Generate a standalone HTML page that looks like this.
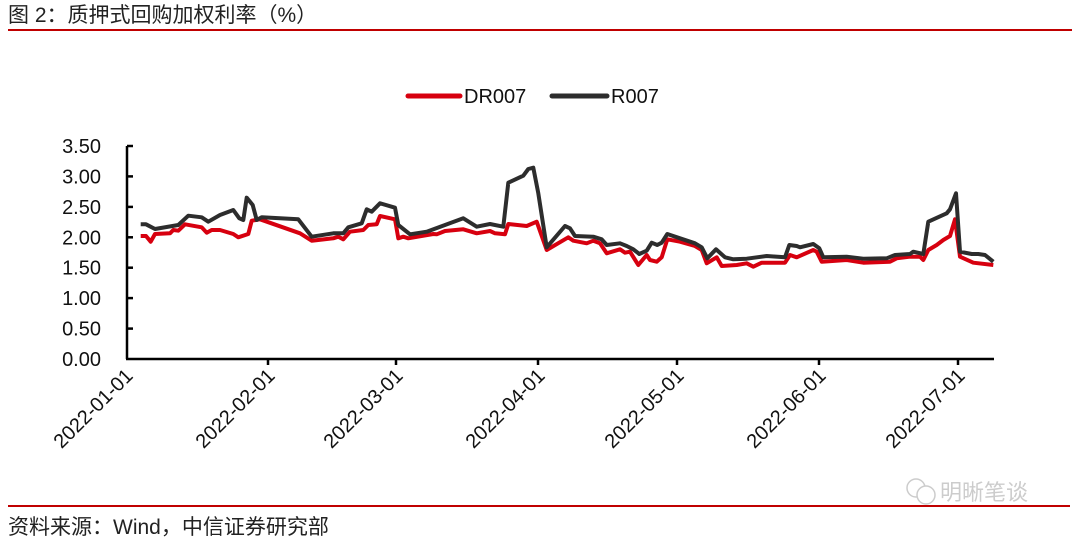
<!DOCTYPE html>
<html><head><meta charset="utf-8"><style>
html,body{margin:0;padding:0;background:#fff;}
body{width:1080px;height:543px;overflow:hidden;}
</style></head><body>
<svg width="1080" height="543" viewBox="0 0 1080 543" xmlns="http://www.w3.org/2000/svg" font-family="Liberation Sans, Noto Sans CJK SC, sans-serif">
<text x="8" y="22" font-size="21" fill="#222" font-family="Liberation Sans, Noto Sans CJK SC, sans-serif">图 2：质押式回购加权利率（%）</text>
<line x1="8" y1="30" x2="1072" y2="30" stroke="#c00000" stroke-width="2"/>
<line x1="8" y1="506" x2="1070" y2="506" stroke="#c00000" stroke-width="2"/>
<text x="8" y="534" font-size="21" fill="#222" font-family="Liberation Sans, Noto Sans CJK SC, sans-serif">资料来源：Wind，中信证券研究部</text>
<text x="940" y="500" font-size="22" fill="#ccc" font-family="Noto Sans CJK SC, sans-serif">明晰笔谈</text>
<circle cx="916" cy="488" r="9" fill="none" stroke="#ccc" stroke-width="1.5"/>
<circle cx="926" cy="495" r="9" fill="#fff" stroke="#ccc" stroke-width="1.5"/>
<!-- legend -->
<line x1="408" y1="96" x2="460" y2="96" stroke="#d7000f" stroke-width="5" stroke-linecap="round"/>
<text x="464" y="103" font-size="20" fill="#111">DR007</text>
<line x1="552" y1="96" x2="607" y2="96" stroke="#2d2d2d" stroke-width="5" stroke-linecap="round"/>
<text x="611" y="103" font-size="20" fill="#111">R007</text>
<!-- axes -->
<g stroke="#000" stroke-width="2.5">
<line x1="127" y1="146" x2="127" y2="359"/>
<line x1="126" y1="359" x2="994" y2="359"/>
<line x1="127" y1="146" x2="133" y2="146"/>
<line x1="127" y1="176.4" x2="133" y2="176.4"/>
<line x1="127" y1="206.9" x2="133" y2="206.9"/>
<line x1="127" y1="237.3" x2="133" y2="237.3"/>
<line x1="127" y1="267.7" x2="133" y2="267.7"/>
<line x1="127" y1="298.1" x2="133" y2="298.1"/>
<line x1="127" y1="328.6" x2="133" y2="328.6"/>
<line x1="268" y1="359" x2="268" y2="365"/>
<line x1="396" y1="359" x2="396" y2="365"/>
<line x1="538" y1="359" x2="538" y2="365"/>
<line x1="677" y1="359" x2="677" y2="365"/>
<line x1="819" y1="359" x2="819" y2="365"/>
<line x1="958" y1="359" x2="958" y2="365"/>
</g>
<g font-size="20" fill="#111" text-anchor="end">
<text x="101" y="153">3.50</text>
<text x="101" y="183.4">3.00</text>
<text x="101" y="213.9">2.50</text>
<text x="101" y="244.3">2.00</text>
<text x="101" y="274.7">1.50</text>
<text x="101" y="305.1">1.00</text>
<text x="101" y="335.6">0.50</text>
<text x="101" y="366">0.00</text>
</g>
<g font-size="20" fill="#111" text-anchor="end">
<text transform="translate(134,377) rotate(-45)">2022-01-01</text>
<text transform="translate(276,377) rotate(-45)">2022-02-01</text>
<text transform="translate(404,377) rotate(-45)">2022-03-01</text>
<text transform="translate(546,377) rotate(-45)">2022-04-01</text>
<text transform="translate(685,377) rotate(-45)">2022-05-01</text>
<text transform="translate(827,377) rotate(-45)">2022-06-01</text>
<text transform="translate(966,377) rotate(-45)">2022-07-01</text>
</g>
<polyline fill="none" stroke="#d7000f" stroke-width="4" stroke-linejoin="round" points="140.7,236 146,236 150.7,241.7 155,234 170,233.3 173.3,230 178.3,230.7 185,224.3 201.7,227.3 206.7,232.7 211.7,230 220,230 233.3,234 238.3,237.3 248.3,234 251.7,220.7 260,219.3 300,233.3 311.7,240.7 333.3,238.3 338.3,236.7 343.3,239.3 350,231.7 363.3,230 368.3,225 376.7,224.3 380,216 395,219.3 398.3,238.3 403.3,236.7 408.3,238.3 433.3,234 436.7,234.3 445,231 463.3,229.3 476.7,233.3 490,231 495,233.3 505,234.3 508.3,224 526.7,226 536.7,221.7 546.7,250 568.3,237.3 573.3,240.7 586.7,243.3 593.3,240.7 600,243.3 606.7,253.3 620,249.3 625,252.7 630,251.7 638.3,265 646.7,255 650,260 656.7,261.7 661.7,257.3 667.3,239.3 680,241.7 695,246 701.7,250 706.7,263.3 716.7,257.3 721.7,266 736.7,265 746.7,263.3 753.3,266.7 761.7,262.7 785,262.7 790,255 796.7,257.3 813.3,250 816.7,251.7 821.7,261.7 846.7,260 863.3,262.7 890,261.7 896.7,258.3 910,256.7 920,256.7 923.3,260 928.3,250 936.7,245 943.3,240 950,236 955,219.3 960,256.7 973.3,262.7 993.3,265"/>
<polyline fill="none" stroke="#2d2d2d" stroke-width="4" stroke-linejoin="round" points="140.7,224.3 146,224.3 155,229 178.3,225 188.3,215.7 201.7,217.3 208.3,221.7 220,215 233.3,210 239.3,218.3 243.3,220 246.7,197.7 252.7,205 256.7,220 261.7,217.3 298.3,219.3 311.7,236.7 333.3,233.3 343.3,233.3 348.3,227.3 361.7,223.3 366.7,209.3 371.7,211.7 380,203.3 395,207.7 398.3,225 410,234.3 426.7,231.7 463.3,218.3 476.7,226.7 490,224 503.3,226.7 508.3,182.7 523.3,175.7 528.3,169 533.3,167.7 538.3,193.3 546.7,247.3 565,226 570,228.3 575,236 593.3,236.7 601.7,239.3 606.7,245 620,243.3 626.7,246 633.3,249.3 639.3,254 646.7,250.7 651.7,242.7 657.3,245 661.7,242.7 667.3,234 680,238.3 695,243.3 701.7,247.3 707.3,258.3 716,249.3 725,257.3 733.3,259.3 746.7,258.7 766.7,256 785,257.3 789.3,245 796.7,246 800,247.3 813.3,244 819.3,248.3 823.3,257.3 846.7,256.7 863.3,258.7 886.7,258.3 895,255 910,254 913.3,251.7 923.3,254 928.3,221.7 946.7,213.3 950,209.3 956,193.3 960,251.7 971.7,254 978.3,254 985,255 993.3,261.7"/>
</svg>
</body></html>
